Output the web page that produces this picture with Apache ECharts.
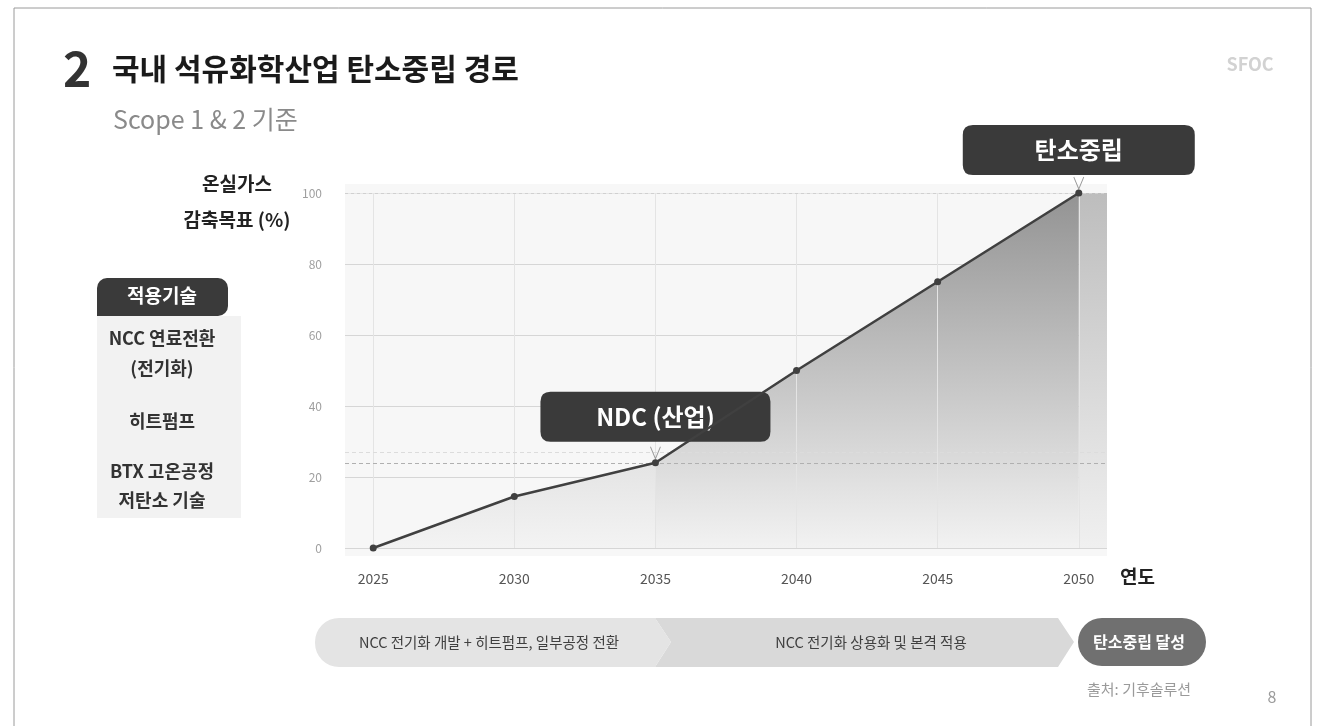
<!DOCTYPE html>
<html><head><meta charset="utf-8">
<script src="https://cdn.jsdelivr.net/npm/echarts@6/dist/echarts.min.js"></script>
<style>html,body{margin:0;padding:0;background:#fff;}#c{width:1326px;height:726px;}</style>
</head><body><div id="c"></div>
<script>
const years = [2025, 2030, 2035, 2040, 2045, 2050];
const targets = [0, 14.5, 24, 50, 75, 100];
const yTicks = [0, 20, 40, 60, 80, 100];
const ndcYear = 2035, ndcValue = 24;
const netZeroYear = 2050, netZeroValue = 100;
const techItems = ['NCC 연료전환', '(전기화)', '히트펌프', 'BTX 고온공정', '저탄소 기술'];
const phases = ['NCC 전기화 개발 + 히트펌프, 일부공정 전환', 'NCC 전기화 상용화 및 본격 적용', '탄소중립 달성'];

const F = '"Noto Sans CJK KR", "Noto Sans", sans-serif';
const pts = years.map((y, i) => [y, targets[i]]);
const early = pts.filter(p => p[0] <= ndcYear);
const late = pts.filter(p => p[0] >= ndcYear);

const chart = echarts.init(document.getElementById('c'), null, {renderer: 'canvas'});
const lg = (a, b) => ({type: 'linear', x: 0, y: 0, x2: 0, y2: 1, colorStops: [{offset: 0, color: a}, {offset: 1, color: b}]});
const boxPath = 'path://M10 0L220 0Q230 0 230 10L230 40Q230 50 220 50L10 50Q0 50 0 40L0 10Q0 0 10 0Z';

const techY = [338, 368, 421, 471, 500];
const graphics = [
  {type: 'rect', shape: {x: 14, y: 8, width: 1297, height: 740}, style: {fill: 'none', stroke: '#9a9a9a', lineWidth: 1}, silent: true},
  {type: 'text', x: 63, y: 69, style: {text: '2', font: 'bold 48px ' + F, fill: '#333', verticalAlign: 'middle'}},
  {type: 'text', x: 112, y: 69, style: {text: '국내 석유화학산업 탄소중립 경로', font: 'bold 30px ' + F, fill: '#1a1a1a', verticalAlign: 'middle'}},
  {type: 'text', x: 113, y: 119, style: {text: 'Scope 1 & 2 기준', font: '25px ' + F, fill: '#8a8a8a', verticalAlign: 'middle'}},
  {type: 'text', x: 1250, y: 64, style: {text: 'SFOC', font: 'bold 18px ' + F, fill: '#d2d2d2', align: 'center', verticalAlign: 'middle'}},
  {type: 'rect', shape: {x: 345, y: 184, width: 762, height: 372}, style: {fill: '#f7f7f7'}, z: -1},
  {type: 'text', x: 237, y: 184, style: {text: '온실가스', font: 'bold 19px ' + F, fill: '#222', align: 'center', verticalAlign: 'middle'}},
  {type: 'text', x: 237, y: 220, style: {text: '감축목표 (%)', font: 'bold 19px ' + F, fill: '#222', align: 'center', verticalAlign: 'middle'}},
  {type: 'text', x: 1120, y: 577, style: {text: '연도', font: 'bold 19px ' + F, fill: '#222', verticalAlign: 'middle'}},
  {type: 'rect', shape: {x: 97, y: 316, width: 144, height: 202}, style: {fill: '#f2f2f2'}},
  {type: 'rect', shape: {x: 97, y: 278, width: 131, height: 38, r: [10, 10, 10, 0]}, style: {fill: '#3a3a3a'}},
  {type: 'text', x: 162, y: 296, style: {text: '적용기술', font: 'bold 19px ' + F, fill: '#fff', align: 'center', verticalAlign: 'middle'}},
  // bottom phases
  {type: 'polygon', shape: {points: [[655, 618], [1058, 618], [1074, 642], [1058, 667], [655, 667], [671, 642]]}, style: {fill: '#d9d9d9'}},
  {type: 'rect', shape: {x: 315, y: 618, width: 341, height: 49, r: [24, 0, 0, 24]}, style: {fill: '#e4e4e4'}},
  {type: 'polygon', shape: {points: [[655, 618], [671, 642], [655, 667]]}, style: {fill: '#e4e4e4'}},
  {type: 'rect', shape: {x: 1078, y: 618, width: 128, height: 48, r: 24}, style: {fill: '#707070'}},
  {type: 'text', x: 489, y: 642, style: {text: phases[0], font: '14.5px ' + F, fill: '#404040', align: 'center', verticalAlign: 'middle'}},
  {type: 'text', x: 871, y: 642, style: {text: phases[1], font: '14.5px ' + F, fill: '#404040', align: 'center', verticalAlign: 'middle'}},
  {type: 'text', x: 1139, y: 642, style: {text: phases[2], font: 'bold 16px ' + F, fill: '#fff', align: 'center', verticalAlign: 'middle'}},
  {type: 'text', x: 1087, y: 689, style: {text: '출처: 기후솔루션', font: '15px ' + F, fill: '#9a9a9a', verticalAlign: 'middle'}},
  {type: 'text', x: 1272, y: 697, style: {text: '8', font: '16px ' + F, fill: '#9a9a9a', align: 'center', verticalAlign: 'middle'}}
];
techItems.forEach((t, i) => graphics.push({type: 'text', x: 162, y: techY[i], style: {text: t, font: 'bold 18px ' + F, fill: '#333', align: 'center', verticalAlign: 'middle'}}));

const option = {
  animation: false,
  textStyle: {fontFamily: F},
  grid: {left: 345, right: 219, top: 193, bottom: 178},
  xAxis: {
    type: 'value', min: 2024, max: 2051,
    axisLine: {show: false}, axisTick: {show: false}, splitLine: {show: false},
    axisLabel: {customValues: years, formatter: v => String(v), color: '#555', fontSize: 14, margin: 24}
  },
  yAxis: {
    type: 'value', min: 0, max: 100, interval: 20,
    axisLine: {show: false}, axisTick: {show: false},
    axisLabel: {color: '#9f9f9f', fontSize: 12, margin: 23},
    splitLine: {lineStyle: {color: ['#d6d6d6', '#d6d6d6', '#d6d6d6', '#d6d6d6', '#d6d6d6', '#e6e6e6']}}
  },
  graphic: graphics,
  series: [
    {
      type: 'line', data: early, symbol: 'none', lineStyle: {width: 0}, z: 1,
      areaStyle: {color: lg('#e4e4e4', '#f3f3f3'), opacity: 1},
      markLine: {
        silent: true, symbol: 'none', label: {show: false},
        lineStyle: {color: '#e4e4e4', type: 'solid', width: 1},
        data: years.map(y => ({xAxis: y}))
      }
    },
    {
      type: 'line', data: late, symbol: 'none', lineStyle: {width: 0}, z: 1,
      areaStyle: {color: lg('#939393', '#f2f2f2'), opacity: 1},
      markArea: {
        silent: true,
        itemStyle: {color: lg('#bdbdbd', '#f0f0f0')},
        data: [[{xAxis: netZeroYear, yAxis: 0}, {xAxis: 2051, yAxis: netZeroValue}]]
      },
      markLine: {
        silent: true, symbol: 'none', label: {show: false},
        data: [
          {yAxis: ndcValue, lineStyle: {color: '#b0b0b0', type: [4, 3], width: 1.2}},
          {yAxis: 27, lineStyle: {color: '#dcdcdc', type: [4, 3], width: 1}},
          {yAxis: 100, lineStyle: {color: '#d0d0d0', type: [3, 3], width: 1}}
        ]
      }
    },
    {
      type: 'line', data: pts, z: 5,
      symbol: 'circle', symbolSize: 7,
      itemStyle: {color: '#404040'},
      lineStyle: {color: '#404040', width: 2.5},
      markPoint: {
        silent: true,
        data: [
          {coord: [ndcYear, ndcValue], name: 'NDC (산업)', symbol: boxPath, symbolSize: [230, 50], symbolOffset: [0, -46],
            itemStyle: {color: '#3a3a3a'}, label: {show: true, position: 'inside', formatter: '{b}', color: '#fff', fontSize: 24, fontWeight: 'bold'}},
          {coord: [netZeroYear, netZeroValue], name: '탄소중립', symbol: boxPath, symbolSize: [232, 50], symbolOffset: [0, -43],
            itemStyle: {color: '#3a3a3a'}, label: {show: true, position: 'inside', formatter: '{b}', color: '#fff', fontSize: 24, fontWeight: 'bold'}},
          {coord: [ndcYear, ndcValue], name: 'p1', symbol: 'path://M0,0 L5,10 L10,0', symbolSize: [10, 12], symbolOffset: [0, -10],
            itemStyle: {color: 'none', borderColor: '#9a9a9a', borderWidth: 1}, label: {show: false}},
          {coord: [netZeroYear, netZeroValue], name: 'p2', symbol: 'path://M0,0 L5,10 L10,0', symbolSize: [10, 12], symbolOffset: [0, -10],
            itemStyle: {color: 'none', borderColor: '#9a9a9a', borderWidth: 1}, label: {show: false}}
        ]
      }
    }
  ]
};
chart.setOption(option);
</script></body></html>
